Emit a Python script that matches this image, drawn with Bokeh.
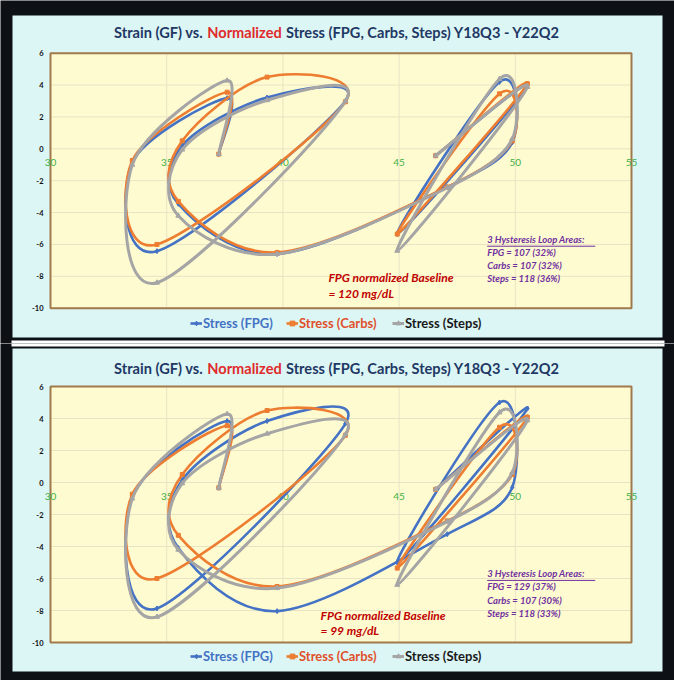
import math
from bokeh.plotting import figure
from bokeh.models import Range1d, Label, Legend, LegendItem, ColumnDataSource
from bokeh.layouts import column
from bokeh.embed import file_html
from bokeh.resources import INLINE
from bokeh.core.properties import value

# ---------------- data ----------------
strain_gf = [37.24, 37.60, 33.52, 34.58, 42.69, 39.32, 35.67,
             35.50, 39.75, 47.07, 49.87, 49.32, 44.92, 50.52, 46.57]

stress_fpg_120 = [-0.33, 3.18, -0.85, -6.42, 3.00, 3.22, 0.20,
                  -3.45, -6.60, -2.40, 0.40, 4.20, -5.35, 3.95, -0.43]
stress_carbs = [-0.33, 3.55, -0.73, -6.00, 2.95, 4.50, 0.50,
                -3.30, -6.50, -2.40, 0.50, 3.45, -5.35, 4.08, -0.43]
stress_steps = [-0.33, 4.28, -1.00, -8.40, 3.00, 3.05, -0.05,
                -4.20, -6.60, -2.45, 0.62, 4.38, -6.40, 3.88, -0.43]
stress_fpg_99 = [-0.33, 3.84, -0.90, -7.87, 3.68, 3.84, 0.15,
                 -4.10, -8.04, -3.23, -0.30, 5.00, -5.00, 4.62, -0.43]

series_names = ["Stress (FPG)", "Stress (Carbs)", "Stress (Steps)"]
x_ticks = [30, 35, 40, 45, 50, 55]
y_ticks = [-10, -8, -6, -4, -2, 0, 2, 4, 6]

title_left = "Strain (GF) vs."
title_mid = "Normalized"
title_right = "Stress (FPG, Carbs, Steps)  Y18Q3 - Y22Q2"

areas_top = ["3 Hysteresis Loop Areas:", "FPG = 107 (32%)", "Carbs = 107 (32%)", "Steps = 118 (36%)"]
areas_bottom = ["3 Hysteresis Loop Areas:", "FPG = 129 (37%)", "Carbs = 107 (30%)", "Steps = 118 (33%)"]
baseline_top = ["FPG normalized Baseline", "= 120 mg/dL"]
baseline_bottom = ["FPG normalized Baseline", "= 99 mg/dL"]

# ---------------- style / layout (page pixels) ----------------
DARK = "#0d1014"
CYAN = "#DCF6F6"
YELLOW = "#FFFBD0"
BROWN = "#A07A4C"
GRID = "#E8E3C4"
NAVY = "#1F3864"
RED = "#E02B2B"
GREEN = "#3FAF46"
COLORS = ["#4472C4", "#ED7D31", "#A5A5A5"]
TEXT_COLORS = ["#4472C4", "#E0502A", "#1A1A1A"]
MARKERS = ["diamond", "square", "triangle"]
MSIZES = [5, 4, 5]
WIDTHS = [2.6, 2.6, 3.0]
FONT = "Lato"

W = 674
PLOT_L, PLOT_R = 50, 631
X0, X1 = 30, 55
Y0, Y1 = -10, 6
LEGEND_X = [190, 286, 392]


def excel_smooth(xs, ys, sx, sy):
    """Bezier control handles (Excel-style smoothing) for a data series."""
    pts = [(x * sx, y * sy) for x, y in zip(xs, ys)]
    n = len(pts)
    out = {k: [] for k in ("x0", "y0", "x1", "y1", "cx0", "cy0", "cx1", "cy1")}

    def dist(a, b):
        return math.hypot(a[0] - b[0], a[1] - b[1])

    for i in range(n - 1):
        p0 = pts[i - 1] if i > 0 else pts[i]
        p1 = pts[i]
        p2 = pts[i + 1]
        p3 = pts[i + 2] if i + 2 < n else pts[i + 1]
        d02, d12, d13 = dist(p0, p2), dist(p1, p2), dist(p1, p3)
        f1 = 1 / 6 if (d02 == 0 or d02 / 6 < d12 / 2) else d12 / (2 * d02)
        f2 = 1 / 6 if (d13 == 0 or d13 / 6 < d12 / 2) else d12 / (2 * d13)
        c1 = (p1[0] + f1 * (p2[0] - p0[0]), p1[1] + f1 * (p2[1] - p0[1]))
        c2 = (p2[0] - f2 * (p3[0] - p1[0]), p2[1] - f2 * (p3[1] - p1[1]))
        out["x0"].append(p1[0] / sx); out["y0"].append(p1[1] / sy)
        out["x1"].append(p2[0] / sx); out["y1"].append(p2[1] / sy)
        out["cx0"].append(c1[0] / sx); out["cy0"].append(c1[1] / sy)
        out["cx1"].append(c2[0] / sx); out["cy1"].append(c2[1] / sy)
    return out


def make_panel(fpg, top, height, panel_y, band_y, plot_top, plot_bot,
               title_cy, legend_cy, areas, baseline, base_xy, area_xy):
    sx = (PLOT_R - PLOT_L) / (X1 - X0)
    sy = (plot_bot - plot_top) / (Y1 - Y0)

    def px2x(px):
        return X0 + (px - PLOT_L) / sx

    def py2y(py):
        return Y1 - (py - plot_top) / sy

    bottom = top + height
    p = figure(width=W, height=height,
               x_range=Range1d(px2x(0), px2x(W)), y_range=Range1d(py2y(bottom), py2y(top)),
               output_backend="svg", toolbar_location=None, title=None,
               min_border=0, min_border_left=0, min_border_right=0,
               min_border_top=0, min_border_bottom=0,
               background_fill_color=DARK, border_fill_color=DARK,
               outline_line_color=None)
    p.axis.visible = False
    p.grid.visible = False

    # cyan panel and white separator band
    p.quad(left=px2x(12), right=px2x(662), top=py2y(panel_y[0]), bottom=py2y(panel_y[1]),
           fill_color=CYAN, line_color=None)
    p.quad(left=px2x(11), right=px2x(664), top=py2y(band_y[0]), bottom=py2y(band_y[1]),
           fill_color="#FFFFFF", line_color=None)

    # plot area, grid, border
    p.quad(left=X0, right=X1, top=Y1, bottom=Y0, fill_color=YELLOW, line_color=None)
    p.segment(x0=x_ticks, x1=x_ticks, y0=[Y0] * len(x_ticks), y1=[Y1] * len(x_ticks),
              line_color=GRID, line_width=1)
    p.segment(x0=[X0] * len(y_ticks), x1=[X1] * len(y_ticks), y0=y_ticks, y1=y_ticks,
              line_color=GRID, line_width=1)
    p.quad(left=X0, right=X1, top=Y1, bottom=Y0, fill_color=None,
           line_color=BROWN, line_width=2)

    # tick labels
    p.text(x=[X0] * len(y_ticks), y=y_ticks, text=[str(t) for t in y_ticks],
           x_offset=-7, text_align="right", text_baseline="middle",
           text_font=value(FONT), text_font_style="bold", text_font_size="7.5px",
           text_color="#111111")
    p.text(x=x_ticks, y=[0] * len(x_ticks), text=[str(t) for t in x_ticks],
           y_offset=14, text_align="center", text_baseline="middle",
           text_font=value(FONT), text_font_size="10px", text_color=GREEN)

    # series
    all_series = [fpg, stress_carbs, stress_steps]
    renderers = []
    for ys, col, mk, ms, w in zip(all_series, COLORS, MARKERS, MSIZES, WIDTHS):
        src = ColumnDataSource(excel_smooth(strain_gf, ys, sx, sy))
        b = p.bezier(x0="x0", y0="y0", x1="x1", y1="y1", cx0="cx0", cy0="cy0",
                     cx1="cx1", cy1="cy1", source=src, line_color=col, line_width=w)
        s = p.scatter(x=strain_gf, y=ys, marker=mk, size=ms, fill_color=col, line_color=col)
        renderers.append((b, s))

    # legends (one per series so each label has its own colour)
    for (b, s), name, tc, lx in zip(renderers, series_names, TEXT_COLORS, LEGEND_X):
        leg = Legend(items=[LegendItem(label=name, renderers=[b, s])],
                     location=(lx, bottom - legend_cy - 6), orientation="horizontal",
                     background_fill_alpha=0, border_line_color=None,
                     padding=0, margin=0, spacing=0,
                     glyph_width=12, glyph_height=12, label_height=12,
                     label_standoff=1, label_text_color=tc, label_text_font=FONT,
                     label_text_font_style="bold", label_text_font_size="13px")
        p.add_layout(leg)

    # title in three colours
    ty = bottom - title_cy
    mid_c, half = 244, 41.5
    for txt, tx, al, colr in ((title_left, mid_c - half, "right", NAVY),
                              (title_mid, mid_c, "center", RED),
                              (title_right, mid_c + half, "left", NAVY)):
        p.add_layout(Label(x=tx, y=ty, x_units="screen", y_units="screen", text=txt,
                           text_align=al, text_baseline="middle", text_color=colr,
                           text_font=FONT, text_font_style="bold", text_font_size="14.6px"))

    # baseline annotation
    bx, by, bdy = base_xy
    for i, t in enumerate(baseline):
        p.add_layout(Label(x=bx, y=by - i * bdy, text=t, text_align="left", text_baseline="middle",
                           text_color="#C00000", text_font=FONT, text_font_style="bold italic",
                           text_font_size="12px"))

    # hysteresis areas
    ax, ay, ady = area_xy
    for i, t in enumerate(areas):
        p.add_layout(Label(x=ax, y=ay - i * ady, text=t, text_align="left", text_baseline="middle",
                           text_color="#7030A0", text_font=FONT, text_font_style="bold italic",
                           text_font_size="9.5px"))
    p.segment(x0=[ax], y0=[ay - 0.42], x1=[ax + 4.65], y1=[ay - 0.42],
              line_color="#7030A0", line_width=1)
    return p


p1 = make_panel(stress_fpg_120, 0, 343, (15, 337), (340, 346), 52.7, 307.7, 32.3, 325,
                areas_top, baseline_top, (41.96, -8.09, 0.97), (48.79, -5.69, 0.825))
p2 = make_panel(stress_fpg_99, 343, 337, (348, 671), (337, 346), 386.0, 642.0, 367.7, 658.3,
                areas_bottom, baseline_bottom, (41.62, -8.29, 0.96), (48.79, -5.70, 0.83))

layout = column(p1, p2, spacing=0)

open("out.html", "w").write(file_html(layout, INLINE))
